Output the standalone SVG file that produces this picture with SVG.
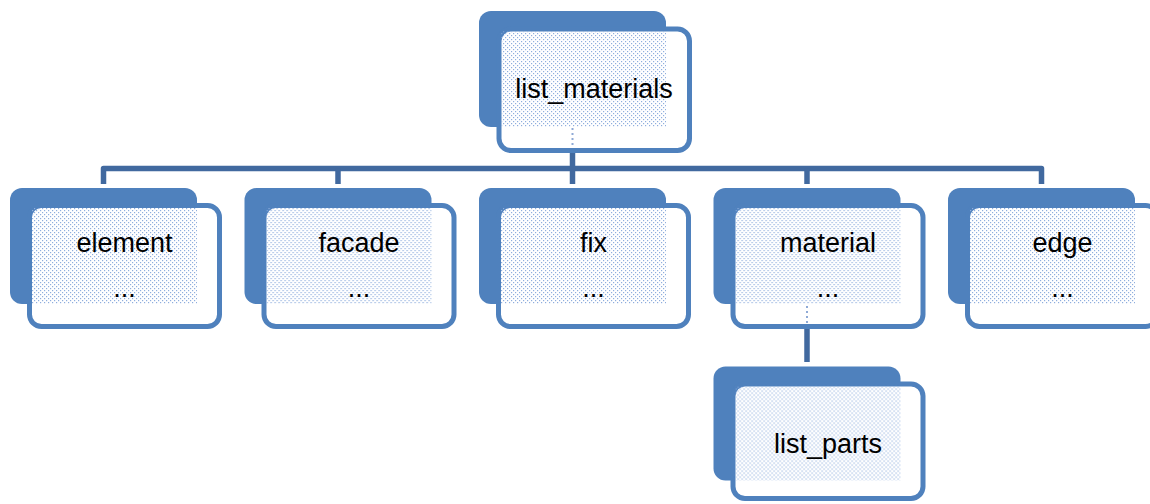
<svg xmlns="http://www.w3.org/2000/svg" width="1150" height="504" viewBox="0 0 1150 504">
<defs>
<pattern id="dots" width="4" height="4" patternUnits="userSpaceOnUse">
<rect x="0" y="0" width="1.2" height="1.2" fill="#8FAEDD"/>
<rect x="2" y="2" width="1.2" height="1.2" fill="#8FAEDD"/>
</pattern>
</defs>
<style>
.back{fill:#4F81BD;}
.front{fill:#FFFFFF;stroke:#4F81BD;stroke-width:5;}
.pat{fill:url(#dots);}
.lbl{font-family:"Liberation Sans",Arial,sans-serif;font-size:27px;fill:#000;text-anchor:middle;}
.conn{fill:none;stroke:#41699F;stroke-width:5.5;stroke-linejoin:round;}
.faint{fill:none;stroke:#8FAAD6;stroke-width:2;stroke-dasharray:2 3;}
</style>
<rect width="1150" height="504" fill="#FFFFFF"/>
<g id="connectors">
<path class="conn" d="M103.5,184 V168.5 H1041.5 V184"/>
<path class="conn" d="M338,168.5 V184"/>
<path class="conn" d="M572.5,152 V184"/>
<path class="conn" d="M807,168.5 V184"/>
<path class="conn" d="M807,328 V362"/>
</g>
<g id="list_materials" transform="translate(479,11)">
<rect class="back" x="0" y="0" width="187" height="116" rx="12"/>
<rect class="front" x="20" y="18" width="190.5" height="121.5" rx="12"/>
<rect class="pat" x="22.5" y="20.5" width="164.5" height="95.5"/>
<line class="faint" x1="93.5" y1="117" x2="93.5" y2="137"/>
<text class="lbl" x="115" y="87">list_materials</text>
</g>
<g id="element" transform="translate(10,188)">
<rect class="back" x="0" y="0" width="187" height="116" rx="12"/>
<rect class="front" x="19.5" y="17.5" width="190" height="121" rx="12"/>
<rect class="pat" x="22" y="20" width="165" height="96"/>
<text class="lbl" x="114.5" y="64">element</text>
<text class="lbl" x="114.5" y="109">...</text>
</g>
<g id="facade" transform="translate(244.5,188)">
<rect class="back" x="0" y="0" width="187" height="116" rx="12"/>
<rect class="front" x="19.5" y="17.5" width="190" height="121" rx="12"/>
<rect class="pat" x="22" y="20" width="165" height="96"/>
<text class="lbl" x="114.5" y="64">facade</text>
<text class="lbl" x="114.5" y="109">...</text>
</g>
<g id="fix" transform="translate(479,188)">
<rect class="back" x="0" y="0" width="187" height="116" rx="12"/>
<rect class="front" x="19.5" y="17.5" width="190" height="121" rx="12"/>
<rect class="pat" x="22" y="20" width="165" height="96"/>
<text class="lbl" x="114.5" y="64">fix</text>
<text class="lbl" x="114.5" y="109">...</text>
</g>
<g id="material" transform="translate(713.5,188)">
<rect class="back" x="0" y="0" width="187" height="116" rx="12"/>
<rect class="front" x="19.5" y="17.5" width="190" height="121" rx="12"/>
<rect class="pat" x="22" y="20" width="165" height="96"/>
<line class="faint" x1="93.5" y1="118" x2="93.5" y2="137"/>
<text class="lbl" x="114.5" y="64">material</text>
<text class="lbl" x="114.5" y="109">...</text>
</g>
<g id="edge" transform="translate(948,188)">
<rect class="back" x="0" y="0" width="187" height="116" rx="12"/>
<rect class="front" x="19.5" y="17.5" width="190" height="121" rx="12"/>
<rect class="pat" x="22" y="20" width="165" height="96"/>
<text class="lbl" x="114.5" y="64">edge</text>
<text class="lbl" x="114.5" y="109">...</text>
</g>
<g id="list_parts" transform="translate(713.5,366.5)">
<rect class="back" x="0" y="0" width="187" height="114" rx="12"/>
<rect class="front" x="19.5" y="17.5" width="190" height="114.5" rx="12"/>
<rect class="pat" x="22" y="20" width="165" height="94"/>
<text class="lbl" x="114.5" y="86.5">list_parts</text>
</g>
</svg>
